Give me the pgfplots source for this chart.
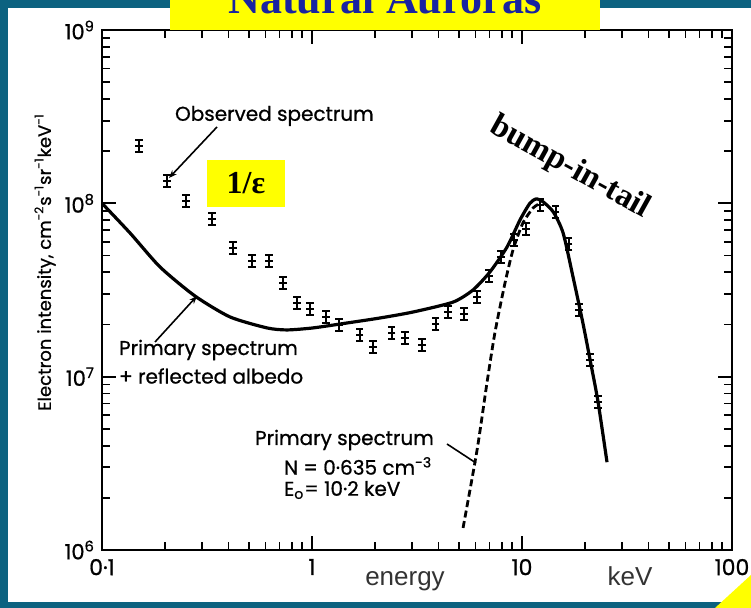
\documentclass[border=0pt]{standalone}
\usepackage{fontspec}
\setmainfont{Liberation Serif}
\newfontfamily\lettering{Poppins}[UprightFeatures={FakeBold=0.8}]
\newfontfamily\arial{Liberation Sans}
\usepackage{pgfplots}
\pgfplotsset{compat=1.18}
\usetikzlibrary{arrows.meta}
\definecolor{frameteal}{RGB}{12,98,128}
\definecolor{titleblue}{RGB}{25,35,160}
\definecolor{hilite}{RGB}{255,255,0}

% observed electron spectrum (energy in keV, intensity, relative error)
\pgfplotstableread{
x      y        e
0.150  2.14e8   0.08
0.204  1.35e8   0.08
0.251  1.03e8   0.08
0.334  8.12e7   0.08
0.421  5.52e7   0.08
0.518  4.65e7   0.08
0.624  4.65e7   0.08
0.728  3.47e7   0.08
0.849  2.66e7   0.08
0.978  2.45e7   0.08
1.166  2.21e7   0.08
1.344  1.99e7   0.08
1.69   1.74e7   0.08
1.95   1.48e7   0.08
2.40   1.79e7   0.08
2.77   1.67e7   0.08
3.34   1.52e7   0.08
3.89   2.01e7   0.08
4.44   2.36e7   0.08
5.30   2.30e7   0.08
6.11   2.88e7   0.08
6.97   3.81e7   0.08
7.94   4.90e7   0.08
9.16   6.14e7   0.08
10.45  7.11e7   0.08
12.2   9.78e7   0.08
14.5   8.91e7   0.08
16.7   5.82e7   0.08
18.7   2.42e7   0.08
21.1   1.25e7   0.08
23.0   7.13e6   0.08
}\observed

% primary spectrum + reflected albedo
\pgfplotstableread{
x      y
0.1    1.00e8
0.136  6.74e7
0.189  4.29e7
0.277  2.92e7
0.407  2.21e7
0.611  1.91e7
0.760  1.86e7
1.01   1.91e7
1.47   2.04e7
2.11   2.18e7
3.03   2.36e7
4.69   2.69e7
5.84   3.16e7
7.04   4.02e7
8.49   5.60e7
9.78   8.01e7
10.9   1.00e8
11.7   1.06e8
12.6   1.02e8
14.1   8.91e7
15.7   6.74e7
17.5   3.76e7
19.5   2.04e7
21.1   1.25e7
23.0   7.20e6
25.4   3.21e6
}\albedo

% primary spectrum alone
\pgfplotstableread{
x      y
5.24   1.34e6
6.11   3.77e6
6.81   9.19e6
7.43   1.79e7
8.30   3.47e7
9.06   5.38e7
10.1   7.70e7
11.3   9.40e7
12.2   1.00e8
}\primary

\begin{document}
\begin{tikzpicture}
\path[use as bounding box, fill=white] (0,0) rectangle (375.5pt,304pt);

\begin{axis}[
  at={(51pt,29pt)}, anchor=south west,
  scale only axis, width=315pt, height=260pt,
  xmode=log, ymode=log,
  xmin=0.1, xmax=100, ymin=1e6, ymax=1e9,
  xtick={0.1,1,10,100},
  xticklabels={0·1,1,10,100},
  ytick={1e6,1e7,1e8,1e9},
  yticklabels={10\textsuperscript{6},10\textsuperscript{7},10\textsuperscript{8},10\textsuperscript{9}},
  axis line style={line width=1.1pt},
  every tick/.style={black, line width=0.9pt},
  major tick length=7pt, minor tick length=3.8pt,
  xticklabel style={font=\lettering\fontsize{11}{11}\selectfont, yshift=-1pt},
  yticklabel style={font=\lettering\fontsize{10.5}{10.5}\selectfont},
]
\addplot[black, line width=1.6pt, smooth, tension=0.4] table[x=x, y=y] {\albedo};
\addplot[black, line width=1.4pt, dash pattern=on 3.5pt off 1.8pt, smooth, tension=0.4] table[x=x, y=y] {\primary};
\addplot[black, only marks, mark=-, mark size=1.8pt, mark options={line width=1pt},
  error bars/.cd, y dir=both, y explicit relative,
  error bar style={line width=1.1pt},
  error mark options={rotate=90, mark size=1.8pt, line width=1pt}]
  table[x=x, y=y, y error=e] {\observed};
\end{axis}

% slide frame and title
\fill[frameteal] (0pt,0pt) rectangle (4pt,304pt);
\fill[frameteal] (0pt,300pt) rectangle (375.5pt,304pt);
\fill[frameteal] (0pt,0pt) rectangle (375.5pt,3pt);
\fill[hilite] (85pt,289pt) rectangle (300pt,304pt);
\node[anchor=base, text=titleblue, font=\bfseries\fontsize{22}{22}\selectfont] at (192.5pt,297pt) {Natural Auroras};
\fill[hilite] (357.5pt,0pt) -- (375.5pt,0pt) -- (375.5pt,16.5pt) -- cycle;

% axis titles
\node[rotate=90, font=\lettering\fontsize{9}{9}\selectfont] at (22.5pt,173pt)
  {Electron intensity, cm\textsuperscript{-2}s\textsuperscript{-1}sr\textsuperscript{-1}keV\textsuperscript{-1}};
\node[anchor=base, text=black!80, font=\arial\fontsize{13}{13}\selectfont] at (202.5pt,11pt) {energy};
\node[anchor=base, text=black!80, font=\arial\fontsize{13}{13}\selectfont] at (315pt,11pt) {keV};

% annotations
\node[anchor=west, font=\lettering\fontsize{10}{10}\selectfont] at (84pt,246pt) {Observed spectrum};
\draw[-{Stealth[length=4pt,width=3pt]}, line width=0.8pt] (108.5pt,240.5pt) -- (84.5pt,215pt);

\node[anchor=west, font=\lettering\fontsize{10}{10}\selectfont] at (56pt,129pt) {Primary spectrum};
\node[anchor=west, font=\lettering\fontsize{10}{10}\selectfont] at (56pt,116pt) {+ reflected albedo};
\draw[-{Stealth[length=4pt,width=3pt]}, line width=0.8pt] (77.5pt,133pt) -- (98.5pt,156pt);

\node[anchor=west, font=\lettering\fontsize{10}{10}\selectfont] at (124pt,84pt) {Primary spectrum};
\node[anchor=west, font=\lettering\fontsize{10}{10}\selectfont] at (138.5pt,71pt) {N = 0·635 cm\textsuperscript{-3}};
\node[anchor=west, font=\lettering\fontsize{10}{10}\selectfont] at (138.5pt,59pt) {E\textsubscript{o}= 10·2 keV};
\draw[line width=0.8pt] (223.5pt,82pt) -- (238pt,72.5pt);

\fill[hilite] (103.5pt,200.5pt) rectangle (142.5pt,224pt);
\node[font=\bfseries\fontsize{16}{16}\selectfont] at (123pt,212.5pt) {1/ε};

\node[rotate=-29, font=\bfseries\fontsize{16.5}{16.5}\selectfont] at (285pt,220pt) {bump-in-tail};
\end{tikzpicture}
\end{document}
